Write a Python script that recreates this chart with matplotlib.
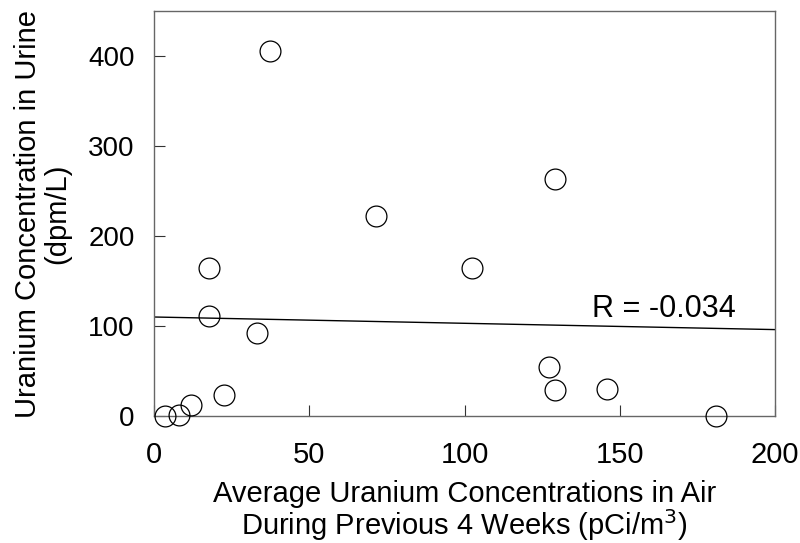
import matplotlib
matplotlib.use("Agg")
import matplotlib.pyplot as plt

plt.rcParams['font.family'] = ['Liberation Sans', 'DejaVu Sans']

air_conc = [3.5, 8.2, 11.9, 22.4, 17.8, 17.8, 33.2, 37.4, 71.6, 102.5,
            129.1, 127.1, 129.1, 145.8, 180.9]
urine_conc = [0, 1, 12, 23, 164, 111, 92, 406, 222, 164,
              263, 54, 29, 30, 0]

fit_x = [0, 200]
fit_y = [110, 96]
r_text = "R = -0.034"

x_ticks = [0, 50, 100, 150, 200]
y_ticks = [0, 100, 200, 300, 400]

fig = plt.figure(figsize=(8, 5.43), dpi=100)
ax = fig.add_axes([0.1925, 0.2339, 0.969 - 0.1925, 0.9797 - 0.2339])

ax.plot(fit_x, fit_y, color='black', linewidth=1.0, zorder=2)
ax.plot(air_conc, urine_conc, linestyle='none', marker='o', markersize=15,
        markerfacecolor='none', markeredgecolor='black', markeredgewidth=0.9,
        clip_on=False, zorder=3)

ax.text(141, 110, r_text, fontsize=22, ha='left', va='baseline')

ax.set_xlim(0, 200)
ax.set_ylim(0, 450)
ax.set_xticks(x_ticks)
ax.set_yticks(y_ticks)
ax.set_xticklabels([str(v) for v in x_ticks], fontsize=21)
ax.set_yticklabels([str(v) for v in y_ticks], fontsize=20)
ax.tick_params(axis='both', direction='in', length=8, width=0.8, color='#333333')
ax.tick_params(axis='x', pad=18)
ax.tick_params(axis='y', pad=14)
for s in ax.spines.values():
    s.set_color('#666666')
    s.set_linewidth(1.0)

ax.set_xlabel("Average Uranium Concentrations in Air\nDuring Previous 4 Weeks (pCi/m$^3$)",
              fontsize=21, labelpad=8, linespacing=0.95)
ax.set_ylabel("Uranium Concentration in Urine\n(dpm/L)", fontsize=21, labelpad=12,
              linespacing=1.05)

fig.savefig("out.png", dpi=100)
